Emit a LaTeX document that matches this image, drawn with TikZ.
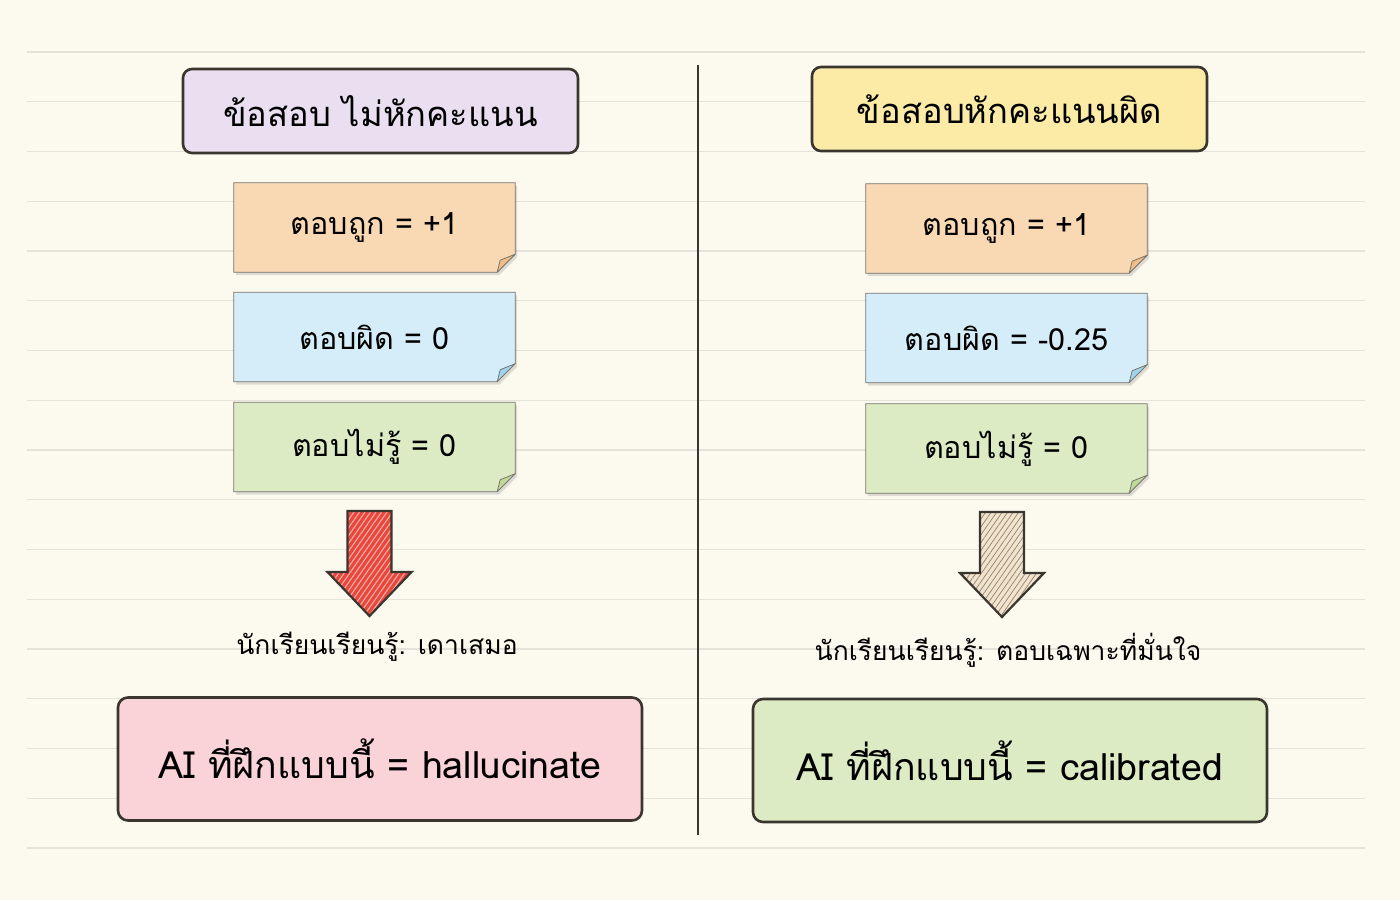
\documentclass[tikz,border=0pt]{standalone}
\usepackage{fontspec}
\setmainfont[Script=Thai]{Loma}
\usetikzlibrary{calc,patterns.meta}

\definecolor{paper}{HTML}{FCFAEF}
\definecolor{rule}{HTML}{E4E2D9}
\definecolor{ink}{HTML}{3B3530}
\definecolor{lavender}{HTML}{E9DFF1}
\definecolor{butter}{HTML}{FBEBA6}
\definecolor{peach}{HTML}{F9D8B4}
\definecolor{peachfold}{HTML}{F0BE86}
\definecolor{sky}{HTML}{D4EDF8}
\definecolor{skyfold}{HTML}{9FD4EC}
\definecolor{leaf}{HTML}{DDEBC4}
\definecolor{leaffold}{HTML}{BFDA98}
\definecolor{blush}{HTML}{FAD3D8}
\definecolor{arrowred}{HTML}{E8473B}
\definecolor{sand}{HTML}{EFE4D2}
\definecolor{hatch}{HTML}{9C7F5E}

\pgfdeclarelayer{paper}
\pgfdeclarelayer{background}
\pgfsetlayers{paper,background,main}

\tikzset{
  titlebox/.style={draw=ink, line width=2.6pt, rounded corners=9pt,
    minimum width=395pt, minimum height=84pt, font=\fontsize{34.5}{40}\selectfont},
  notebox/.style={minimum width=281pt, minimum height=89pt,
    font=\fontsize{30.5}{36}\selectfont},
  resultbox/.style={draw=ink, line width=2.6pt, rounded corners=10pt,
    minimum height=123pt, font=\fontsize{37.5}{44}\selectfont},
  caption/.style={font=\fontsize{26.5}{32}\selectfont},
  arrowshape/.style={insert path={(-22,511) -- (22,511) -- (22,572) -- (42,572)
    -- (0,616) -- (-42,572) -- (-22,572) -- cycle}},
}

% sticky note paper behind a named node, folded at the lower right
\newcommand\notepaper[3]{%
  \begin{pgfonlayer}{background}
    \fill[black, opacity=.12] ($(#1.north west)+(2,3)$) -- ($(#1.north east)+(2,3)$)
      -- ($(#1.south east)+(2,-15)$) -- ($(#1.south east)+(-16,3)$)
      -- ($(#1.south west)+(2,3)$) -- cycle;
    \draw[ink!70, line width=.8pt, fill=#2] (#1.north west) -- (#1.north east)
      -- ($(#1.south east)+(0,-18)$) -- ($(#1.south east)+(-18,0)$)
      -- (#1.south west) -- cycle;
    \draw[ink!70, line width=.8pt, fill=#3, line join=round]
      ($(#1.south east)+(0,-18)$) -- ($(#1.south east)+(-15,-12)$)
      -- ($(#1.south east)+(-18,0)$) -- cycle;
  \end{pgfonlayer}}

\begin{document}
\begin{tikzpicture}[x=1pt, y=-1pt]
  \begin{pgfonlayer}{paper}
    \fill[paper] (0,0) rectangle (1400,900);
    \foreach \k in {0,...,16}
      \draw[rule, line width=1.2pt] (27,52+49.75*\k) -- (1365,52+49.75*\k);
  \end{pgfonlayer}
  \useasboundingbox (0,0) rectangle (1400,900);

  % divider
  \draw[ink, line width=2pt] (698,65) -- (698,835);

  % left column
  \node[titlebox, fill=lavender] (titleL) at (380.5,111) {ข้อสอบ ไม่หักคะแนน};
  \node[notebox] (rightL) at (374.5,227.5) {ตอบถูก = +1};
  \node[notebox] (wrongL) at (374.5,337) {ตอบผิด = 0};
  \node[notebox] (idkL) at (374.5,447) {ตอบไม่รู้ = 0};
  \notepaper{rightL}{peach}{peachfold}
  \notepaper{wrongL}{sky}{skyfold}
  \notepaper{idkL}{leaf}{leaffold}

  \begin{scope}[shift={(369.5,0)}]
    \fill[arrowred, arrowshape];
    \path[pattern={Lines[angle=55, distance=4.5pt, line width=1.1pt]},
      pattern color=white!55!arrowred, arrowshape];
    \draw[ink, line width=2.2pt, line join=miter, arrowshape];
  \end{scope}
  \node[caption] (lessonL) at (377,647) {นักเรียนเรียนรู้: เดาเสมอ};
  \node[resultbox, fill=blush, minimum width=524pt] (resultL) at (380,759)
    {AI ที่ฝึกแบบนี้ = hallucinate};

  % right column
  \node[titlebox, fill=butter] (titleR) at (1009.5,109) {ข้อสอบหักคะแนนผิด};
  \node[notebox] (rightR) at (1006.5,228.5) {ตอบถูก = +1};
  \node[notebox] (wrongR) at (1006.5,338) {ตอบผิด = -0.25};
  \node[notebox] (idkR) at (1006.5,448.5) {ตอบไม่รู้ = 0};
  \notepaper{rightR}{peach}{peachfold}
  \notepaper{wrongR}{sky}{skyfold}
  \notepaper{idkR}{leaf}{leaffold}

  \begin{scope}[shift={(1002,1)}]
    \fill[sand, arrowshape];
    \path[pattern={Lines[angle=55, distance=4.5pt, line width=.7pt]},
      pattern color=hatch, arrowshape];
    \draw[ink, line width=2.2pt, line join=miter, arrowshape];
  \end{scope}
  \node[caption] (lessonR) at (1008,650) {นักเรียนเรียนรู้: ตอบเฉพาะที่มั่นใจ};
  \node[resultbox, fill=leaf, minimum width=514pt] (resultR) at (1010,760.5)
    {AI ที่ฝึกแบบนี้ = calibrated};
\end{tikzpicture}
\end{document}
